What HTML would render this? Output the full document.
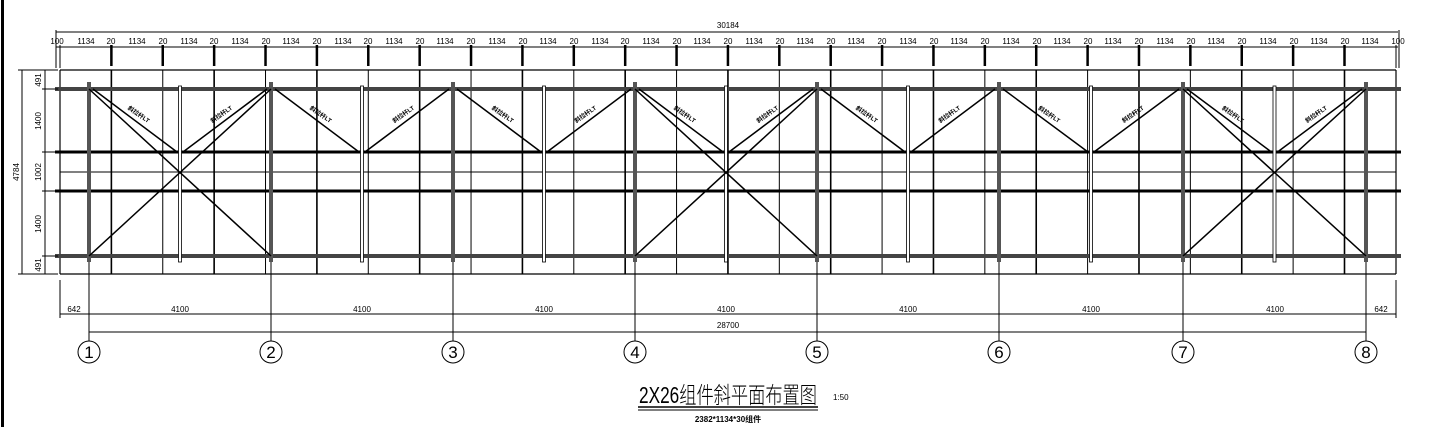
<!DOCTYPE html>
<html><head><meta charset="utf-8"><style>
html,body{margin:0;padding:0;background:#fff;width:1456px;height:427px;overflow:hidden}
svg{display:block}
text{font-family:"Liberation Sans","Noto Sans CJK SC",sans-serif;fill:#000}
</style></head><body>
<svg id="s" width="1456" height="427" viewBox="0 0 1456 427" xmlns="http://www.w3.org/2000/svg">
<line x1="2.5" y1="0" x2="2.5" y2="427" stroke="#000" stroke-width="3"/>
<g id="lines" stroke="#000" fill="none"></g>
<g font-size="8" text-anchor="middle">
<text x="728" y="28">30184</text>
<text x="57" y="44">100</text>
<text x="86" y="44">1134</text><text x="137" y="44">1134</text><text x="189" y="44">1134</text><text x="240" y="44">1134</text><text x="291" y="44">1134</text><text x="343" y="44">1134</text><text x="394" y="44">1134</text><text x="445" y="44">1134</text><text x="497" y="44">1134</text><text x="548" y="44">1134</text><text x="600" y="44">1134</text><text x="651" y="44">1134</text><text x="702" y="44">1134</text><text x="754" y="44">1134</text><text x="805" y="44">1134</text><text x="856" y="44">1134</text><text x="908" y="44">1134</text><text x="959" y="44">1134</text><text x="1011" y="44">1134</text><text x="1062" y="44">1134</text><text x="1113" y="44">1134</text><text x="1165" y="44">1134</text><text x="1216" y="44">1134</text><text x="1268" y="44">1134</text><text x="1319" y="44">1134</text><text x="1370" y="44">1134</text>
<text x="1398" y="44">100</text>
<text x="111" y="44">20</text><text x="163" y="44">20</text><text x="214" y="44">20</text><text x="266" y="44">20</text><text x="317" y="44">20</text><text x="368" y="44">20</text><text x="420" y="44">20</text><text x="471" y="44">20</text><text x="523" y="44">20</text><text x="574" y="44">20</text><text x="625" y="44">20</text><text x="677" y="44">20</text><text x="728" y="44">20</text><text x="780" y="44">20</text><text x="831" y="44">20</text><text x="882" y="44">20</text><text x="934" y="44">20</text><text x="985" y="44">20</text><text x="1037" y="44">20</text><text x="1088" y="44">20</text><text x="1139" y="44">20</text><text x="1191" y="44">20</text><text x="1242" y="44">20</text><text x="1294" y="44">20</text><text x="1345" y="44">20</text>
<text x="74" y="312">642</text><text x="1381" y="312">642</text>
<text x="180" y="312">4100</text><text x="362" y="312">4100</text><text x="544" y="312">4100</text><text x="726" y="312">4100</text><text x="908" y="312">4100</text><text x="1091" y="312">4100</text><text x="1275" y="312">4100</text>
<text x="728" y="328">28700</text>
<text transform="translate(19,172) rotate(-90)">4784</text>
<text transform="translate(41,80) rotate(-90)">491</text>
<text transform="translate(41,121) rotate(-90)">1400</text>
<text transform="translate(41,172) rotate(-90)">1002</text>
<text transform="translate(41,224) rotate(-90)">1400</text>
<text transform="translate(41,265) rotate(-90)">491</text>
</g>
<g fill="none" stroke="#000" stroke-width="1">
<circle cx="89" cy="352" r="11"/><circle cx="271" cy="352" r="11"/><circle cx="453" cy="352" r="11"/><circle cx="635" cy="352" r="11"/><circle cx="817" cy="352" r="11"/><circle cx="999" cy="352" r="11"/><circle cx="1183" cy="352" r="11"/><circle cx="1366" cy="352" r="11"/>
</g>
<g font-size="17" text-anchor="middle" font-family="Liberation Serif">
<text x="89" y="358">1</text><text x="271" y="358">2</text><text x="453" y="358">3</text><text x="635" y="358">4</text><text x="817" y="358">5</text><text x="999" y="358">6</text><text x="1183" y="358">7</text><text x="1366" y="358">8</text>
</g>
<g id="lab" font-size="6" font-weight="bold" text-anchor="middle"></g>
<text x="728" y="403" font-size="23" text-anchor="middle" font-weight="300" textLength="178" lengthAdjust="spacingAndGlyphs">2X26组件斜平面布置图</text>
<text x="833" y="400" font-size="8">1:50</text>
<line x1="638" y1="407" x2="818" y2="407" stroke="#000" stroke-width="1.5"/>
<line x1="638" y1="410" x2="818" y2="410" stroke="#000" stroke-width="1"/>
<text x="728" y="422" font-size="8" font-weight="bold" text-anchor="middle">2382*1134*30组件</text>
</svg>
<script>
var g=document.getElementById('lines'),NS='http://www.w3.org/2000/svg';
function L(x1,y1,x2,y2,w,c){var e=document.createElementNS(NS,'line');e.setAttribute('x1',x1);e.setAttribute('y1',y1);e.setAttribute('x2',x2);e.setAttribute('y2',y2);e.setAttribute('stroke-width',w||1);e.setAttribute('stroke',c||'#000');g.appendChild(e);}
function R(x,y,w,h){var e=document.createElementNS(NS,'rect');e.setAttribute('x',x);e.setAttribute('y',y);e.setAttribute('width',w);e.setAttribute('height',h);e.setAttribute('stroke-width',0.8);e.setAttribute('fill','#fff');g.appendChild(e);}
L(56,32,1398,32,1);L(56,47,1398,47,1);
L(56,30,56,68,1);L(60,45,60,68,1);L(1396,45,1396,68,1);L(1399,30,1399,68,1);
for(var k=1;k<26;k++){var x=60+51.38*k;L(x,45,x,66,2.5);}
L(60,70,1396,70,1.2);L(60,274,1396,274,1.2);L(60,70,60,274,1.2);L(1396,70,1396,274,1.2);
for(var k=1;k<26;k++){var x=60+51.38*k;L(x,70,x,274,k%2?1.6:1);}
L(60,172,1396,172,1);
L(55,152,1401,152,3);L(55,191,1401,191,3);
L(55,89,1401,89,4,'#444');L(55,256,1401,256,4,'#444');
var ax=[89,271,453,635,817,999,1183,1366];
L(22,70,22,274,1);L(45,70,45,274,1);
[70,89,152,191,256,274].forEach(function(y){L(42,y,58,y,1);});
L(18,70,50,70,1);L(18,274,50,274,1);
L(60,280,60,318,1);L(1396,280,1396,318,1);
L(60,314,1396,314,1);L(89,332,1366,332,1);
ax.forEach(function(x){L(x,256,x,341,1);});
for(var i=0;i<7;i++){var m=(ax[i]+ax[i+1])/2;R(m-1.5,86,3,176);}
ax.forEach(function(x){L(x,82,x,262,4,'#555');});
var lab=document.getElementById('lab');
function T(x,y,a){var t=document.createElementNS(NS,'text');t.setAttribute('transform','translate('+x+','+y+') rotate('+a+')');t.textContent='斜拉杆LT';lab.appendChild(t);}
for(var i=0;i<7;i++){var a=ax[i],b=ax[i+1],m=(a+b)/2;
L(a+4,89,m-3,152,1.5);L(b-4,89,m+3,152,1.5);
var ang=Math.atan2(63,m-a)*180/Math.PI;
T((a+m)/2+3,116,ang);T((b+m)/2-3,116,-ang);
if(i==0||i==3||i==6){L(a,89,b,256,1.5);L(b,89,a,256,1.5);}}
</script>
</body></html>
